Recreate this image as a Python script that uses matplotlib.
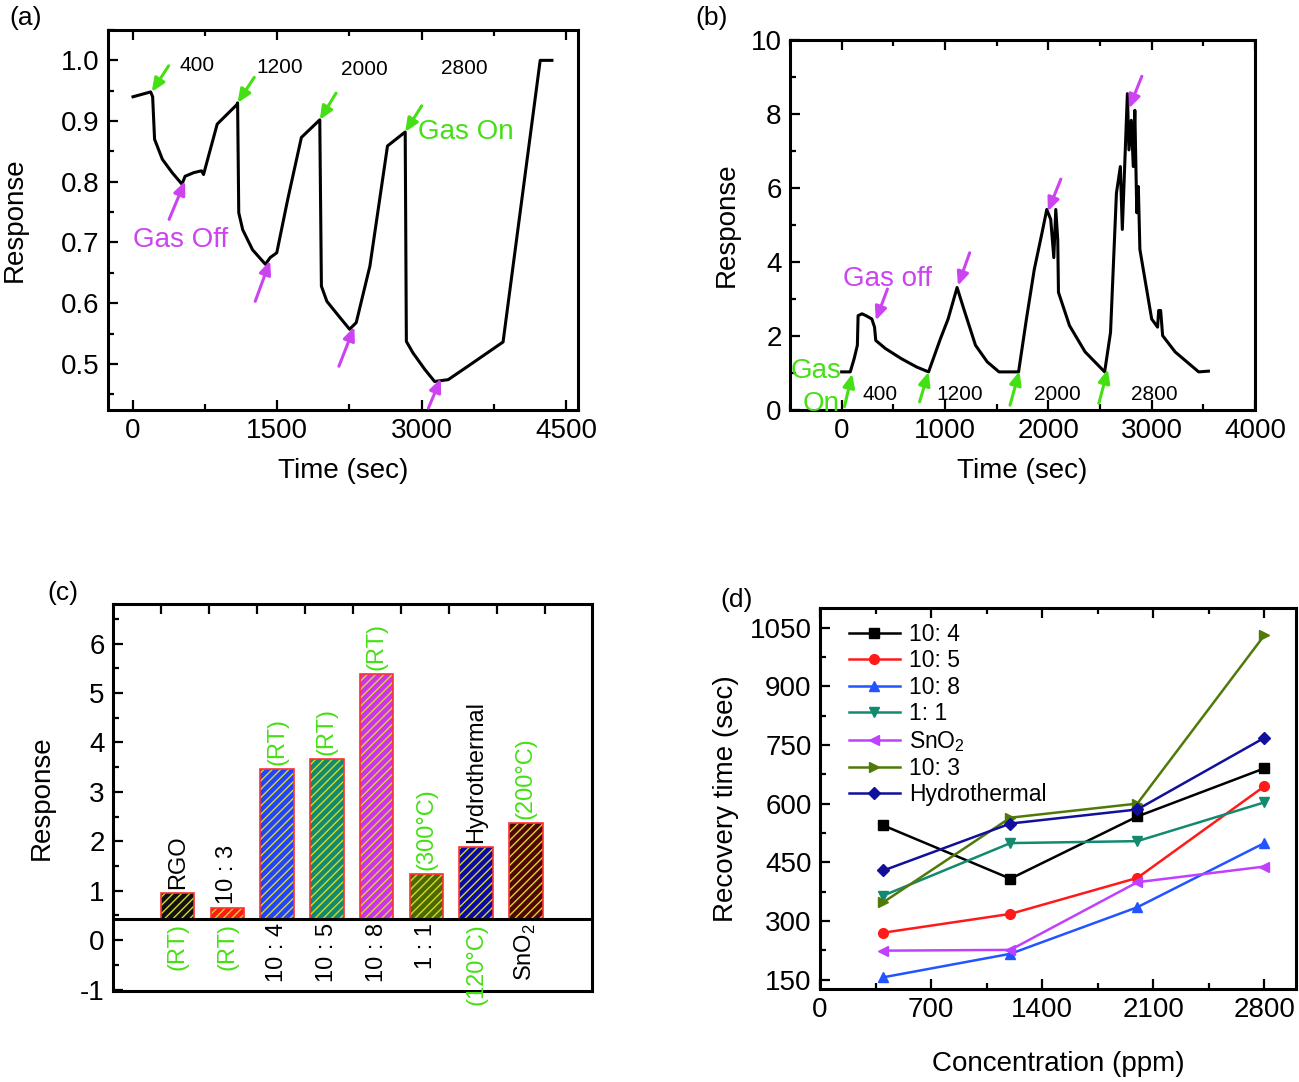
import numpy as np
import matplotlib
matplotlib.use("Agg")
import matplotlib.pyplot as plt
from matplotlib.ticker import MultipleLocator

plt.rcParams['font.family'] = ['Liberation Sans', 'DejaVu Sans']
plt.rcParams['mathtext.fontset'] = 'custom'
plt.rcParams['mathtext.rm'] = 'Liberation Sans'
plt.rcParams['hatch.linewidth'] = 1.0
plt.rcParams['axes.unicode_minus'] = False

GREEN = "#44e014"
MAGENTA = "#cc44f0"

# ---- (a) response vs time, sensor 1
time_a = [0, 183, 204, 224, 305, 407, 509, 541, 631, 712, 733, 875, 1079, 1087,
          1099, 1140, 1242, 1376, 1425, 1494, 1608, 1750, 1941,
          1958, 2015, 2137, 2251, 2320, 2462, 2645, 2829,
          2841, 2910, 3032, 3134, 3276, 3480, 3846, 4232, 4354]
resp_a = [0.940, 0.948, 0.940, 0.870, 0.837, 0.815, 0.796, 0.809, 0.815, 0.818, 0.812, 0.895, 0.927, 0.930,
          0.749, 0.721, 0.688, 0.664, 0.675, 0.683, 0.771, 0.873, 0.902,
          0.628, 0.603, 0.579, 0.557, 0.568, 0.661, 0.859, 0.882,
          0.537, 0.518, 0.491, 0.471, 0.474, 0.496, 0.536, 1.0, 1.0]
conc_a_x = [667, 1521, 2406, 3448]
conc_a_y = [0.992, 0.988, 0.985, 0.987]
on_a_head = [(195, 0.948), (1087, 0.930), (1941, 0.902), (2829, 0.882)]
on_a_tail = [(370, 0.991), (1260, 0.972), (2110, 0.946), (3000, 0.925)]
off_a_head = [(541, 0.801), (1425, 0.670), (2300, 0.561), (3200, 0.476)]
off_a_tail = [(375, 0.738), (1270, 0.603), (2140, 0.496), (3070, 0.427)]

# ---- (b) response vs time, sensor 2
time_b = [0, 83, 121, 152, 159, 197, 235, 292, 318, 330, 424, 576, 727, 841,
          955, 1030, 1117, 1182, 1295, 1409, 1523, 1712,
          1788, 1864, 1939, 1985, 2023, 2053, 2072, 2091, 2098, 2205, 2356, 2545,
          2602, 2659, 2697, 2716, 2765, 2780, 2803, 2822, 2837, 2856, 2871, 2886,
          3000, 3057, 3068, 3087, 3106, 3227, 3455, 3549]
resp_b = [1.03, 1.03, 1.39, 1.75, 2.55, 2.60, 2.55, 2.46, 2.24, 1.88, 1.66, 1.39, 1.16, 1.03,
          1.92, 2.46, 3.31, 2.73, 1.75, 1.30, 1.03, 1.03,
          2.46, 3.80, 4.79, 5.42, 5.15, 4.12, 5.42, 4.61, 3.18, 2.28, 1.57, 1.03,
          2.10, 5.86, 6.58, 4.88, 8.55, 7.03, 7.83, 6.58, 8.10, 5.33, 6.04, 4.34,
          2.46, 2.24, 2.69, 2.69, 2.01, 1.57, 1.03, 1.05]
conc_b_x = [370, 1140, 2090, 3030]
conc_b_y = [0.42, 0.42, 0.42, 0.42]
on_b_head = [(102, 0.98), (841, 1.03), (1720, 1.05), (2576, 1.10)]
on_b_tail = [(27, 0.09), (754, 0.22), (1629, 0.13), (2489, 0.18)]
off_b_head = [(330, 2.42), (1125, 3.36), (1996, 5.37), (2780, 8.15)]
off_b_tail = [(443, 3.27), (1239, 4.25), (2121, 6.24), (2905, 9.02)]

# ---- (c) response bars
samples = ["RGO", "10:3", "10:4", "10:5", "10:8", "1:1", "Hydrothermal", "SnO2"]
bar_resp = [0.96, 0.65, 3.46, 3.67, 5.39, 1.33, 1.89, 2.37]
bar_base = 0.42
bar_colors = ["#111111", "#ff1a1a", "#2244ff", "#128a70", "#cc33ee", "#4a6a00", "#0a0aa8", "#500505"]
top_text = ["RGO", "10 : 3", "(RT)", "(RT)", "(RT)", "(300°C)", "Hydrothermal", "(200°C)"]
top_green = [False, False, True, True, True, True, False, True]
low_text = ["(RT)", "(RT)", "10 : 4", "10 : 5", "10 : 8", "1 : 1", "(120°C)", r"SnO$_\mathregular{2}$"]
low_green = [True, True, False, False, False, False, True, False]

# ---- (d) recovery time
conc = [400, 1200, 2000, 2800]
rec_104 = [544, 408, 567, 690]
rec_105 = [270, 318, 410, 644]
rec_108 = [156, 216, 335, 499]
rec_11 = [365, 499, 504, 603]
rec_sno2 = [224, 226, 399, 439]
rec_103 = [348, 564, 600, 1030]
rec_hydro = [429, 549, 585, 768]

W, H = 1299, 1082
fig = plt.figure(figsize=(W / 100, H / 100), dpi=100)


def box(l, t, r, b):
    return [l / W, 1 - b / H, (r - l) / W, (b - t) / H]


def style(ax):
    for s in ax.spines.values():
        s.set_linewidth(2.2)
    ax.tick_params(which="both", direction="in", top=True, right=False, labelsize=20, width=1.6)
    ax.tick_params(which="major", length=7, pad=6)
    ax.tick_params(which="minor", length=4)


def arrows(ax, heads, tails, color):
    for h, t in zip(heads, tails):
        ax.annotate("", xy=h, xytext=t,
                    arrowprops=dict(arrowstyle="-|>,head_length=0.8,head_width=0.35",
                                    color=color, lw=2.2, shrinkA=0, shrinkB=0))


# (a)
ax = fig.add_axes(box(108, 30, 578, 410))
style(ax)
ax.plot(time_a, resp_a, color="black", lw=2.2)
ax.set_xlim(-260, 4625)
ax.set_ylim(0.424, 1.05)
ax.xaxis.set_major_locator(MultipleLocator(1500))
ax.xaxis.set_minor_locator(MultipleLocator(750))
ax.yaxis.set_major_locator(MultipleLocator(0.1))
ax.yaxis.set_minor_locator(MultipleLocator(0.05))
ax.yaxis.set_major_formatter(lambda v, p: f"{v:.1f}")
for x, y, s in zip(conc_a_x, conc_a_y, ["400", "1200", "2000", "2800"]):
    ax.text(x, y, s, fontsize=15, ha="center", va="center")
arrows(ax, on_a_head, on_a_tail, GREEN)
arrows(ax, off_a_head, off_a_tail, MAGENTA)
ax.text(3458, 0.882, "Gas On", color=GREEN, fontsize=20, ha="center", va="center")
ax.text(490, 0.704, "Gas Off", color=MAGENTA, fontsize=20, ha="center", va="center")
ax.set_xlabel("Time (sec)", fontsize=20, labelpad=10)
ax.set_ylabel("Response", fontsize=20, labelpad=24)

# (b)
ax = fig.add_axes(box(790, 40, 1255, 410))
style(ax)
ax.plot(time_b, resp_b, color="black", lw=2.2)
ax.set_xlim(-500, 4000)
ax.set_ylim(0, 10)
ax.xaxis.set_major_locator(MultipleLocator(1000))
ax.xaxis.set_minor_locator(MultipleLocator(500))
ax.yaxis.set_major_locator(MultipleLocator(2))
ax.yaxis.set_minor_locator(MultipleLocator(1))
for x, y, s in zip(conc_b_x, conc_b_y, ["400", "1200", "2000", "2800"]):
    ax.text(x, y, s, fontsize=15, ha="center", va="center")
arrows(ax, on_b_head, on_b_tail, GREEN)
arrows(ax, off_b_head, off_b_tail, MAGENTA)
ax.text(443, 3.55, "Gas off", color=MAGENTA, fontsize=20, ha="center", va="center")
ax.text(-250, 1.05, "Gas", color=GREEN, fontsize=20, ha="center", va="center")
ax.text(-200, 0.15, "On", color=GREEN, fontsize=20, ha="center", va="center")
ax.set_xlabel("Time (sec)", fontsize=20, labelpad=10)
ax.set_ylabel("Response", fontsize=20, labelpad=8)

# (c)
ax = fig.add_axes(box(113, 604, 592, 991))
style(ax)
xc = np.arange(1, len(samples) + 1)
heights = [v - bar_base for v in bar_resp]
ax.bar(xc, heights, 0.67, bottom=bar_base, color=bar_colors, edgecolor="none", zorder=2)
ax.bar(xc, heights, 0.67, bottom=bar_base, color="none", edgecolor="#d8d820",
       hatch="////", lw=0, zorder=3)
ax.bar(xc, heights, 0.67, bottom=bar_base, color="none", edgecolor="#ff3030", lw=1.2, zorder=4)
ax.axhline(bar_base, color="black", lw=2.2, zorder=5)
for x, v, s, g in zip(xc, bar_resp, top_text, top_green):
    ax.text(x, v + 0.08, s, rotation=90, ha="center", va="bottom", fontsize=17,
            color=GREEN if g else "black")
for x, s, g in zip(xc, low_text, low_green):
    ax.text(x, bar_base - 0.08, s, rotation=90, ha="center", va="top", fontsize=17,
            color=GREEN if g else "black")
ax.set_xlim(-0.3, 9.33)
ax.set_ylim(-1.03, 6.8)
ax.set_xticks(np.arange(0.66, 9.3, 0.965))
ax.tick_params(axis="x", bottom=False, labelbottom=False)
ax.yaxis.set_major_locator(MultipleLocator(1))
ax.yaxis.set_minor_locator(MultipleLocator(0.5))
ax.set_ylabel("Response", fontsize=20, labelpad=18)

# (d)
ax = fig.add_axes(box(820, 608, 1296, 989))
style(ax)
series = [
    (rec_104, "10: 4", "black", "s"),
    (rec_105, "10: 5", "#ff1a1a", "o"),
    (rec_108, "10: 8", "#2255ff", "^"),
    (rec_11, "1: 1", "#128a70", "v"),
    (rec_sno2, r"SnO$_\mathregular{2}$", "#c040ff", "<"),
    (rec_103, "10: 3", "#4f7a0a", ">"),
    (rec_hydro, "Hydrothermal", "#10109a", "D"),
]
for vals, lab, col, mk in series:
    ax.plot(conc, vals, color=col, marker=mk, ms=7 if mk != "D" else 6, lw=1.8, label=lab)
ax.set_xlim(0, 3000)
ax.set_ylim(126, 1100)
ax.xaxis.set_major_locator(MultipleLocator(700))
ax.xaxis.set_minor_locator(MultipleLocator(350))
ax.yaxis.set_major_locator(MultipleLocator(150))
ax.yaxis.set_minor_locator(MultipleLocator(75))
ax.legend(loc="upper left", bbox_to_anchor=(0.03, 1.0), frameon=False, fontsize=16.5,
          handlelength=2.2, handletextpad=0.4, labelspacing=0.15, borderaxespad=0.25)
ax.set_xlabel("Concentration (ppm)", fontsize=20, labelpad=20)
ax.set_ylabel("Recovery time (sec)", fontsize=20, labelpad=8)

for s, (x, y) in zip(["(a)", "(b)", "(c)", "(d)"], [(26, 18), (712, 18), (63, 593), (737, 600)]):
    fig.text(x / W, 1 - y / H, s, fontsize=19, ha="center", va="center")

fig.savefig("out.png", dpi=100)
